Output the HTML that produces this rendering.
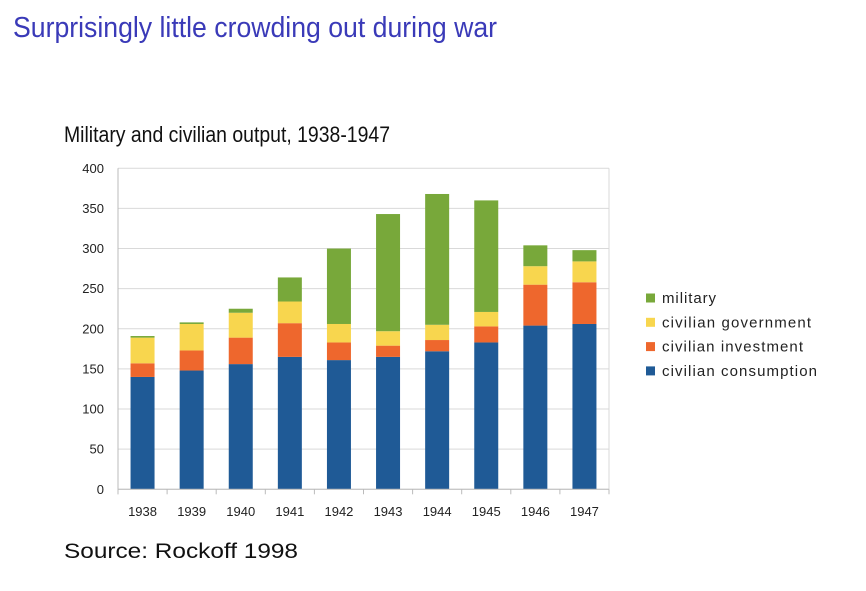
<!DOCTYPE html>
<html><head><meta charset="utf-8"><style>
html,body{margin:0;padding:0;background:#fff;}
svg{display:block;font-family:"Liberation Sans",sans-serif;}
</style></head><body>
<svg id="chart" width="866" height="591" viewBox="0 0 866 591">
<text x="13" y="37" font-size="29" fill="#3a3ab8" textLength="484" lengthAdjust="spacingAndGlyphs">Surprisingly little crowding out during war</text>
<text x="64" y="142" font-size="22" fill="#111" textLength="326" lengthAdjust="spacingAndGlyphs">Military and civilian output, 1938-1947</text>
<text x="64" y="558" font-size="21" fill="#111" textLength="234" lengthAdjust="spacingAndGlyphs">Source: Rockoff 1998</text>
<g id="grid"></g><g id="bars"></g><g id="axes"></g><g id="legend"></g>
</svg>
<script>
const years = ["1938","1939","1940","1941","1942","1943","1944","1945","1946","1947"];
const consumption = [140,148,156,165,161,165,172,183,204,206];
const investment = [17,25,33,42,22,14,14,20,51,52];
const government = [32,33,31,27,23,18,19,18,23,26];
const military = [2,2,5,30,94,146,163,139,26,14];
const yTicks = [0,50,100,150,200,250,300,350,400];
const seriesNames = ["civilian consumption","civilian investment","civilian government","military"];
const colors = ["#1f5a96","#ee672d","#f8d64e","#78a83a"];
const legendWidths = [155,141,149,54];

const NS = "http://www.w3.org/2000/svg";
const X0 = 118, X1 = 609, Y0 = 489.3, Y1 = 168.3, YMAX = 400;
const band = (X1 - X0) / years.length;
const yS = v => Y0 - (v / YMAX) * (Y0 - Y1);
const xC = i => X0 + band * (i + 0.5);
function mk(tag, attrs, parent){const e=document.createElementNS(NS,tag);for(const k in attrs)e.setAttribute(k,attrs[k]);parent.appendChild(e);return e;}
const grid=document.getElementById('grid'), bars=document.getElementById('bars'), axes=document.getElementById('axes'), legend=document.getElementById('legend');

yTicks.forEach(t=>{
  const l=mk('line',{x1:X0,x2:X1,y1:yS(t),y2:yS(t),stroke:'#d9d9d9','stroke-width':1},grid);
  
  
  const tx=mk('text',{x:104,y:yS(t)+4.5,'font-size':13,'text-anchor':'end',fill:'#222'},axes);
  tx.textContent=t;
  
  
});
const rl=mk('line',{x1:X1,x2:X1,y1:Y1,y2:Y0,stroke:'#d9d9d9'},grid);


const ax=mk('line',{x1:X0,x2:X0,y1:Y1,y2:Y0+5,stroke:'#bbb'},axes);


const bx=mk('line',{x1:X0,x2:X1,y1:Y0,y2:Y0,stroke:'#bbb'},axes);



const series=[consumption,investment,government,military];
years.forEach((yr,i)=>{
  let base=0;
  series.forEach((s,k)=>{
    const v=s[i];
    const r=mk('rect',{x:xC(i)-12,width:24,y:yS(base+v),height:yS(base)-yS(base+v),fill:colors[k]},bars);
    
    
    base+=v;
  });
  const tk=mk('line',{x1:X0+band*i,x2:X0+band*i,y1:Y0,y2:Y0+5,stroke:'#bbb'},axes);
  
  
  const t=mk('text',{x:xC(i),y:516,'font-size':13,'text-anchor':'middle',fill:'#222'},axes);
  t.textContent=yr;
  
  
});
const tkE=mk('line',{x1:X1,x2:X1,y1:Y0,y2:Y0+5,stroke:'#bbb'},axes);



[3,2,1,0].forEach((k,j)=>{
  const y=298+j*24.3;
  const g=mk('g',{},legend);
  
  
  mk('rect',{x:646,y:y-4.5,width:9,height:9,fill:colors[k]},g);
  const t=mk('text',{x:662,y:y+5,'font-size':15,fill:'#222',textLength:legendWidths[k],lengthAdjust:'spacing'},g);
  t.textContent=seriesNames[k];
});
</script>
</body></html>
